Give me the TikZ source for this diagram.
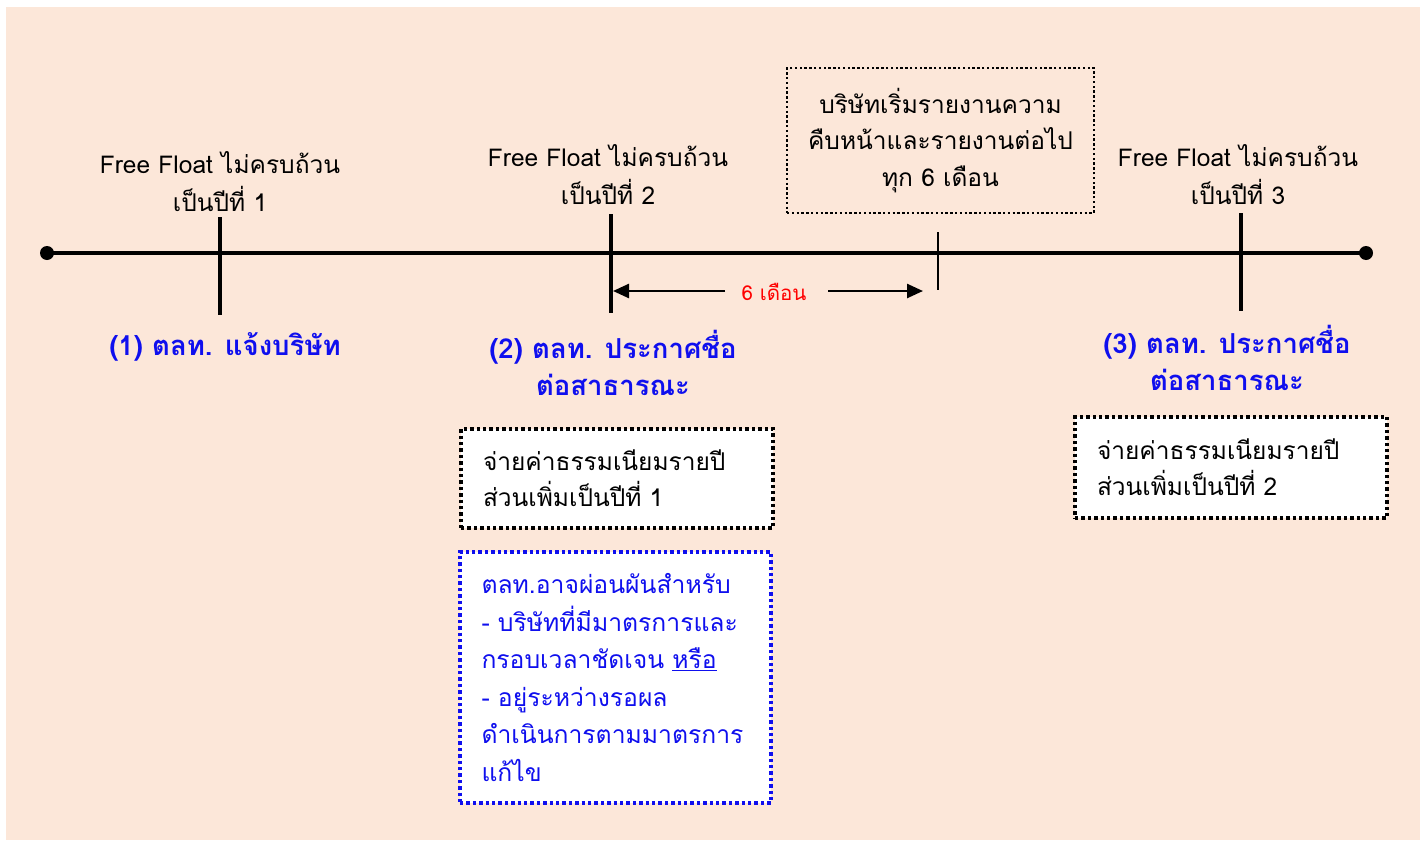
\documentclass[tikz,border=0pt]{standalone}
\usepackage{fontspec}
\setmainfont[Script=Thai]{Loma}
\usetikzlibrary{arrows.meta}
\definecolor{bgpeach}{HTML}{FCE7D9}
\definecolor{lblue}{HTML}{0F0FEE}
\definecolor{lred}{HTML}{FF0000}
\tikzset{
  lbl/.style={align=center, font=\fontsize{24.5}{38}\selectfont, text=black, inner sep=0pt},
  bluelbl/.style={align=center, font=\fontsize{27.5}{37}\selectfont\bfseries, text=lblue, inner sep=0pt},
  tick/.style={line width=3.5pt},
  dotbox/.style={draw=black, fill=white, line width=3.6pt, dash pattern=on 3.4pt off 3pt,
    align=left, font=\fontsize{24.5}{36}\selectfont, inner sep=0pt},
  bluebox/.style={draw=lblue, fill=white, line width=3.6pt, dash pattern=on 3.4pt off 3pt,
    align=left, text=lblue, font=\fontsize{24.7}{37.6}\selectfont, inner sep=0pt},
  topbox/.style={draw=black, line width=2.4pt, dash pattern=on 2.4pt off 2.4pt,
    align=center, font=\fontsize{24.5}{36.5}\selectfont, inner sep=0pt},
  arr/.style={line width=2.5pt, -{Triangle[length=16pt,width=14pt]}},
}
\begin{document}
\begin{tikzpicture}[x=1pt,y=-1pt]
\useasboundingbox (0,0) rectangle (1425,846);
\fill[bgpeach] (6,7) rectangle (1420,840);

% timeline
\coordinate (L) at (47,253);
\coordinate (R) at (1366,253);
\draw[line width=3.2pt] (L) -- (R);
\fill (L) circle (7);
\fill (R) circle (7);

% ticks
\coordinate (t1a) at (220,217); \coordinate (t1b) at (220,315);
\coordinate (t2a) at (611,214); \coordinate (t2b) at (611,313);
\coordinate (t3a) at (1241,213); \coordinate (t3b) at (1241,311);
\coordinate (t4a) at (938,232); \coordinate (t4b) at (938,290);
\draw[tick] (t1a) -- (t1b);
\draw[tick] (t2a) -- (t2b);
\draw[tick] (t3a) -- (t3b);
\draw[line width=2.4pt] (t4a) -- (t4b);

% 6 months arrow
\node[font=\fontsize{20.5}{22}\selectfont, text=lred, inner sep=0pt] (six) at (774,292) {6 เดือน};
\coordinate (a1s) at (725,291); \coordinate (a1e) at (613,291);
\coordinate (a2s) at (828,291); \coordinate (a2e) at (923,291);
\draw[arr] (a1s) -- (a1e);
\draw[arr] (a2s) -- (a2e);

% labels above
\node[lbl] (ff1) at (220,182) {Free Float ไม่ครบถ้วน\\เป็นปีที่ 1};
\node[lbl] (ff2) at (608,175) {Free Float ไม่ครบถ้วน\\เป็นปีที่ 2};
\node[lbl] (ff3) at (1238,175) {Free Float ไม่ครบถ้วน\\เป็นปีที่ 3};

% top dotted box
\node[topbox, minimum width=307, minimum height=145] (rep) at (940.5,140.5)
  {บริษัทเริ่มรายงานความ\\คืบหน้าและรายงานต่อไป\\ทุก 6 เดือน};

% blue labels
\node[bluelbl] (s1) at (225,347) {(1) ตลท. แจ้งบริษัท};
\node[bluelbl] (s2) at (613,363) {(2) ตลท. ประกาศชื่อ\\ต่อสาธารณะ};
\node[bluelbl] (s3) at (1227,358) {(3) ตลท. ประกาศชื่อ\\ต่อสาธารณะ};

% fee boxes
\node[dotbox, minimum width=312, minimum height=99, text width=268] (fee1) at (617,478.5)
  {จ่ายค่าธรรมเนียมรายปี\\ส่วนเพิ่มเป็นปีที่ 1};
\node[dotbox, minimum width=312, minimum height=101, text width=268] (fee2) at (1231,467.5)
  {จ่ายค่าธรรมเนียมรายปี\\ส่วนเพิ่มเป็นปีที่ 2};

% blue box
\node[bluebox, minimum width=311, minimum height=251, text width=268] (relief) at (615.5,677.5)
  {ตลท.อาจผ่อนผันสำหรับ\\- บริษัทที่มีมาตรการและ\\กรอบเวลาชัดเจน \underline{หรือ}\\- อยู่ระหว่างรอผล\\ดำเนินการตามมาตรการ\\แก้ไข};
\end{tikzpicture}
\end{document}
